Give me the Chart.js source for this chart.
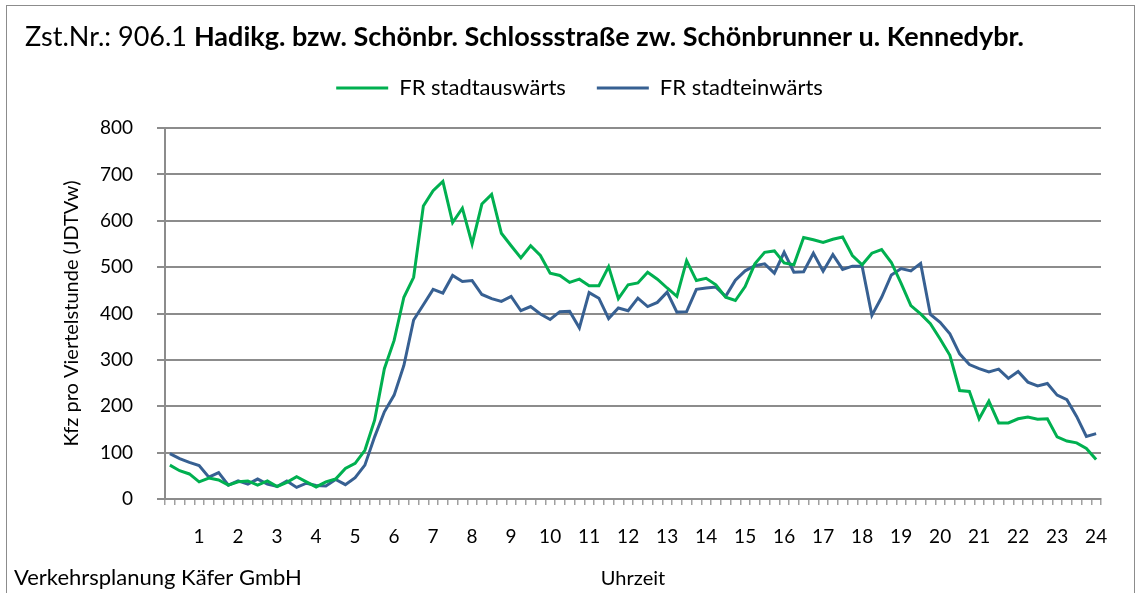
<!DOCTYPE html>
<html>
<head>
<meta charset="utf-8">
<script src="https://cdn.jsdelivr.net/npm/chart.js@4.4.1/dist/chart.umd.min.js"></script>
<style>
  body { margin: 0; background: #fff; }
  #wrap { width: 1137px; height: 593px; position: relative; }
</style>
</head>
<body>
<div id="wrap"><canvas id="chart" width="1137" height="593"></canvas></div>
<script>
const titleNormal = "Zst.Nr.: 906.1 "
const titleBold = "Hadikg. bzw. Schönbr. Schlossstraße zw. Schönbrunner u. Kennedybr."
const footerText = "Verkehrsplanung Käfer GmbH"

const hourLabels = ["1","2","3","4","5","6","7","8","9","10","11","12",
                    "13","14","15","16","17","18","19","20","21","22","23","24"]

// one category per quarter hour (0:15 ... 24:00)
const quarters = []
for (let h = 0; h < 24; h++) {
    for (let q = 1; q <= 4; q++) {
        quarters.push(q === 4 ? (h + 1) + ":00" : h + ":" + (q * 15))
    }
}

const stadtauswaerts = [73,61,54,37,45,41,30,37,39,30,39,27,36,48,37,26,37,43,66,77,
    105,170,281,342,435,478,632,665,685,596,627,550,636,657,573,546,520,546,525,487,
    482,467,474,460,460,501,432,462,466,489,474,455,437,514,471,476,462,435,428,458,
    507,532,535,509,505,564,559,553,560,565,525,505,530,538,510,465,417,399,378,345,
    310,234,232,173,211,164,164,173,177,172,173,134,125,121,109,85]

const stadteinwaerts = [98,87,79,72,47,57,30,39,32,43,32,27,39,25,34,29,28,42,31,46,
    73,134,188,224,288,386,419,452,444,482,469,471,441,432,426,437,406,415,399,387,
    404,405,369,445,433,389,412,406,433,415,424,446,403,404,452,455,457,437,472,492,
    503,507,487,532,489,490,530,491,527,495,502,502,396,435,483,497,492,508,398,381,
    356,313,290,281,274,280,260,275,252,244,249,224,214,178,135,141]

const green = "#00b050"
const blue = "#376092"
const gridGrey = "#8c8c8c"
const font = "Lato"

// title with mixed weight, footer text and outer frame
const decorations = {
    id: "decorations",
    beforeDraw(chart) {
        const ctx = chart.ctx
        ctx.save()
        ctx.strokeStyle = "#8c8c8c"
        ctx.lineWidth = 1
        ctx.strokeRect(6.5, 5.5, 1128, 600)
        ctx.restore()
    },
    afterDraw(chart) {
        const ctx = chart.ctx
        ctx.save()
        ctx.fillStyle = "#000"
        ctx.textBaseline = "middle"
        ctx.font = "27px " + font
        ctx.fillText(titleNormal, 25, 37)
        const w = ctx.measureText(titleNormal).width
        ctx.font = "bold 27px " + font
        ctx.fillText(titleBold, 25 + w, 37)
        ctx.font = "22px " + font
        ctx.fillText(footerText, 14, 578)
        ctx.restore()
    }
}

// more room between legend and plot
const legendGap = {
    id: "legendGap",
    beforeLayout(chart) {
        const lg = chart.legend
        if (lg && !lg._gapPatched) {
            const fit = lg.fit
            lg.fit = function () {
                fit.call(this)
                this.height += 19
            }
            lg._gapPatched = true
        }
    }
}

new Chart(document.getElementById("chart"), {
    type: "line",
    data: {
        labels: quarters,
        datasets: [{
            label: "FR stadtauswärts",
            data: stadtauswaerts,
            borderColor: green,
            backgroundColor: green,
            borderWidth: 3,
            pointRadius: 0,
            tension: 0
        }, {
            label: "FR stadteinwärts",
            data: stadteinwaerts,
            borderColor: blue,
            backgroundColor: blue,
            borderWidth: 3,
            pointRadius: 0,
            tension: 0
        }]
    },
    options: {
        responsive: false,
        animation: false,
        layout: { padding: { top: 46, left: 58, right: 36, bottom: 0 } },
        plugins: {
            title: { display: false },
            tooltip: { enabled: false },
            legend: {
                position: "top",
                labels: {
                    font: { family: font, size: 22 },
                    color: "#000",
                    boxWidth: 52,
                    boxHeight: 3,
                    padding: 31,
                    generateLabels(chart) {
                        const items = Chart.defaults.plugins.legend.labels.generateLabels(chart)
                        items.forEach(it => { it.lineWidth = 0 })
                        return items
                    }
                }
            }
        },
        scales: {
            x: {
                offset: true,
                grid: {
                    offset: true,
                    drawOnChartArea: false,
                    drawTicks: true,
                    tickLength: 6,
                    color: "#a0a0a0",
                    lineWidth: 1.5
                },
                border: { display: true, color: gridGrey, width: 2 },
                ticks: {
                    autoSkip: false,
                    maxRotation: 0,
                    padding: 20,
                    color: "#000",
                    font: { family: font, size: 19 },
                    callback: (val, i) => i % 4 === 3 ? hourLabels[(i - 3) / 4] : ""
                },
                title: {
                    display: true,
                    text: "Uhrzeit",
                    color: "#000",
                    font: { family: font, size: 20 },
                    padding: { top: 4, bottom: 2 }
                },
                afterFit(scale) { scale.height = 94 }
            },
            y: {
                min: 0,
                max: 800,
                ticks: {
                    stepSize: 100,
                    padding: 24,
                    color: "#000",
                    font: { family: font, size: 19 }
                },
                grid: {
                    color: gridGrey,
                    lineWidth: 2,
                    drawTicks: true,
                    tickLength: 8
                },
                border: { display: true, color: gridGrey, width: 2 },
                title: {
                    display: true,
                    text: "Kfz pro Viertelstunde (JDTVw)",
                    color: "#000",
                    font: { family: font, size: 20 },
                    padding: { top: 2, bottom: 0 }
                },
                afterFit(scale) { scale.width = 107 }
            }
        }
    },
    plugins: [decorations, legendGap]
})
</script>
</body>
</html>
